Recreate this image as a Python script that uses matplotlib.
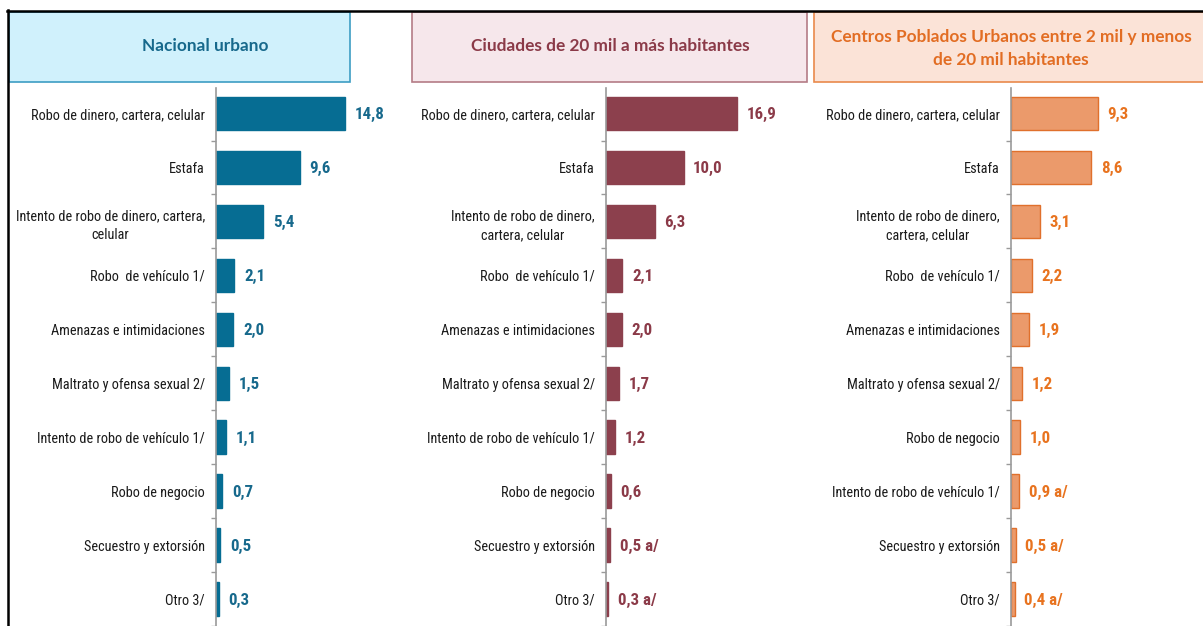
import matplotlib.pyplot as plt
from matplotlib import font_manager
from matplotlib.patches import Rectangle
from matplotlib.lines import Line2D

# tamaño de la imagen en pixeles
W, H = 1203, 626

# datos de cada panel (en %)
categorias_nacional = [
    "Robo de dinero, cartera, celular",
    "Estafa",
    "Intento de robo de dinero, cartera,\ncelular",
    "Robo  de vehículo 1/",
    "Amenazas e intimidaciones",
    "Maltrato y ofensa sexual 2/",
    "Intento de robo de vehículo 1/",
    "Robo de negocio",
    "Secuestro y extorsión",
    "Otro 3/",
]
valores_nacional = [14.8, 9.6, 5.4, 2.1, 2.0, 1.5, 1.1, 0.7, 0.5, 0.3]
notas_nacional = ["", "", "", "", "", "", "", "", "", ""]

categorias_ciudades = [
    "Robo de dinero, cartera, celular",
    "Estafa",
    "Intento de robo de dinero,\ncartera, celular",
    "Robo  de vehículo 1/",
    "Amenazas e intimidaciones",
    "Maltrato y ofensa sexual 2/",
    "Intento de robo de vehículo 1/",
    "Robo de negocio",
    "Secuestro y extorsión",
    "Otro 3/",
]
valores_ciudades = [16.9, 10.0, 6.3, 2.1, 2.0, 1.7, 1.2, 0.6, 0.5, 0.3]
notas_ciudades = ["", "", "", "", "", "", "", "", " a/", " a/"]

categorias_centros = [
    "Robo de dinero, cartera, celular",
    "Estafa",
    "Intento de robo de dinero,\ncartera, celular",
    "Robo  de vehículo 1/",
    "Amenazas e intimidaciones",
    "Maltrato y ofensa sexual 2/",
    "Robo de negocio",
    "Intento de robo de vehículo 1/",
    "Secuestro y extorsión",
    "Otro 3/",
]
valores_centros = [9.3, 8.6, 3.1, 2.2, 1.9, 1.2, 1.0, 0.9, 0.5, 0.4]
notas_centros = ["", "", "", "", "", "", "", " a/", " a/", " a/"]

titulos = [
    "Nacional urbano",
    "Ciudades de 20 mil a más habitantes",
    "Centros Poblados Urbanos entre 2 mil y menos\nde 20 mil habitantes",
]

# busca una fuente angosta tipo Arial Narrow, si no hay usa DejaVu mas chica
disponibles = {f.name for f in font_manager.fontManager.ttflist}
NARROW, TAM_CAT, TAM_VAL = "DejaVu Sans", 8.6, 10.5
for nombre, tc, tv in [("Liberation Sans Narrow", 10.2, 12.0),
                       ("Roboto Condensed", 10.3, 12.2),
                       ("DejaVu Sans Condensed", 9.4, 11.0),
                       ("Open Sans Condensed", 10.0, 12.0)]:
    if nombre in disponibles:
        NARROW, TAM_CAT, TAM_VAL = nombre, tc, tv
        break
HEADER = "Lato"

fig = plt.figure(figsize=(W / 100, H / 100), dpi=100)


def px(x, y):
    # pixel (desde arriba a la izquierda) -> coordenadas de figura
    return x / W, 1 - y / H


# marco negro superior e izquierdo
fig.add_artist(Line2D([7 / W, 1], [1 - 10.5 / H, 1 - 10.5 / H], color="black", lw=1.8,
                      transform=fig.transFigure))
fig.add_artist(Line2D([7.5 / W, 7.5 / W], [0, 1 - 10 / H], color="black", lw=1.8,
                      transform=fig.transFigure))

# cajas de encabezado: (x izq, x der, relleno, borde, color texto, centro del texto)
cajas = [
    (9, 350, "#d0f1fc", "#3d9dc4", "#17698c", (205, 46)),
    (412, 807, "#f6e7eb", "#b47c86", "#8b3a48", (610, 46)),
    (814, 1206, "#fbe3d7", "#e98a4c", "#e26d23", (1011, 48.5)),
]
for (x1, x2, fc, ec, tc, centro), titulo in zip(cajas, titulos):
    x, y = px(x1, 82)
    fig.add_artist(Rectangle((x, y), (x2 - x1) / W, 70 / H, transform=fig.transFigure,
                             facecolor=fc, edgecolor=ec, lw=1.2))
    cx, cy = px(*centro)
    fig.text(cx, cy, titulo, ha="center", va="center", color=tc, fontsize=12.4,
             fontweight="bold", family=HEADER, linespacing=1.5)

# paneles: (x del eje, pixeles por unidad, x derecho)
paneles = [
    (216, 8.72, 400, categorias_nacional, valores_nacional, notas_nacional,
     "#066d93", "#066d93", "#17698c"),
    (606, 7.75, 806, categorias_ciudades, valores_ciudades, notas_ciudades,
     "#8c404d", "#8c404d", "#8b3a48"),
    (1011, 9.35, 1203, categorias_centros, valores_centros, notas_centros,
     "#eb9a6b", "#e0702c", "#e8731f"),
]

top_px, fila0, paso = 88, 114, 54.8
for x0, escala, xr, cats, vals, notas, color, borde, ctexto in paneles:
    ax = fig.add_axes([x0 / W, 0, (xr - x0) / W, (H - top_px) / H])
    ax.set_facecolor("none")
    pos = list(range(len(cats)))
    ax.barh(pos, vals, height=0.62, color=color, edgecolor=borde, linewidth=1)
    ax.set_xlim(0, (xr - x0) / escala)
    ax.set_ylim((H - fila0) / paso, -(fila0 - top_px) / paso)

    for i, (v, n) in enumerate(zip(vals, notas)):
        ax.annotate(f"{v:.1f}".replace(".", ",") + n, xy=(v, i), xytext=(7, -1),
                    textcoords="offset points", ha="left", va="center",
                    color=ctexto, fontsize=TAM_VAL, fontweight="bold", family=NARROW)

    ax.set_yticks(pos)
    ax.set_yticklabels(cats, fontsize=TAM_CAT, family=NARROW, color="#1a1a1a")
    for t in ax.get_yticklabels():
        t.set_multialignment("center")
        t.set_linespacing(1.5)
    ax.set_yticks([p + 0.5 for p in pos], minor=True)
    ax.tick_params(axis="y", which="major", length=0, pad=8)
    ax.tick_params(axis="y", which="minor", length=3.5, color="#9a9a9a", width=1)
    ax.set_xticks([])
    for s in ["top", "right", "bottom"]:
        ax.spines[s].set_visible(False)
    ax.spines["left"].set_color("#9a9a9a")
    ax.spines["left"].set_linewidth(1.2)

fig.savefig("out.png", dpi=100)
